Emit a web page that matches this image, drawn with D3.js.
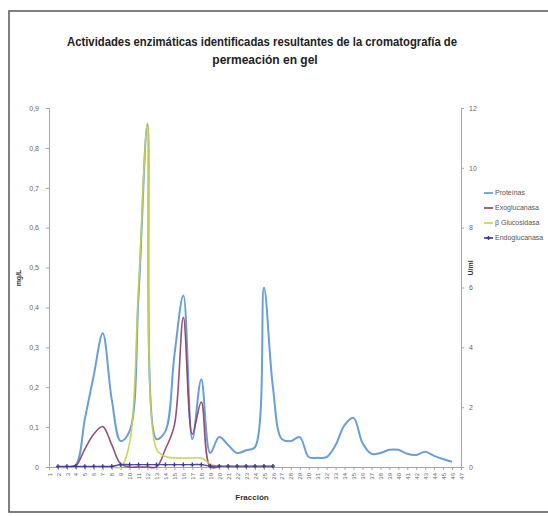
<!DOCTYPE html>
<html>
<head>
<meta charset="utf-8">
<script src="https://cdnjs.cloudflare.com/ajax/libs/d3/7.8.5/d3.min.js"></script>
<style>
  body { margin: 0; background: #fff; }
  svg { display: block; }
</style>
</head>
<body>
<div id="chart"></div>
<script>
// Actividades enzimáticas - cromatografía de permeación en gel

const fracciones = d3.range(1, 48).map(String);

// mg/L (eje izquierdo)
const proteinas = [null, 0.0, 0.0, 0.005, 0.12, 0.23, 0.335, 0.17, 0.065, 0.09,
  0.43, 0.86, 0.07, 0.09, 0.28, 0.43, 0.07, 0.22, 0.035, 0.075,
  0.055, 0.035, 0.042, 0.05, 0.45, 0.2, 0.07, 0.065, 0.075, 0.025,
  0.023, 0.025, 0.055, 0.105, 0.123, 0.06, 0.033, 0.035, 0.043, 0.043,
  0.033, 0.03, 0.038, 0.028, 0.02, 0.013, null];

// U/ml (eje derecho)
const exoglucanasa = [null, 0, 0, 0.05, 0.6, 1.1, 1.35, 0.75, 0.1, 0,
  0, 0, 0, 0.6, 1.4, 5.0, 1.1, 2.17, 0, 0,
  0, 0, 0, 0, 0, 0];
const betaGlucosidasa = [null, 0, 0, 0, 0, 0, 0, 0, 0, 0.8,
  6.0, 11.5, 0.6, 0.35, 0.3, 0.3, 0.3, 0.3, 0.1, 0,
  0, 0, 0, 0, 0, 0];
const endoglucanasa = [null, 0.02, 0.02, 0.02, 0.02, 0.02, 0.02, 0.02, 0.08, 0.08,
  0.08, 0.08, 0.08, 0.08, 0.08, 0.08, 0.08, 0.08, 0.03, 0.03,
  0.03, 0.03, 0.03, 0.03, 0.03, 0.03];

const leftTicks = d3.range(0, 0.91, 0.1);
const rightTicks = d3.range(0, 13, 2);

const width = 548;
const height = 516;
const plot = {left: 49, right: 461, top: 108, bottom: 467};

const svg = d3.select("#chart")
    .append("svg")
    .attr("width", width)
    .attr("height", height);

// marco exterior
svg.append("rect")
    .attr("x", 9).attr("y", 11)
    .attr("width", 560).attr("height", 501)
    .attr("fill", "none")
    .attr("stroke", "#555")
    .attr("stroke-width", 1.5);

// titulo
const title = svg.append("text")
    .attr("text-anchor", "middle")
    .attr("font-family", "'Liberation Sans Narrow', 'Liberation Sans', sans-serif")
    .attr("font-weight", "bold")
    .attr("font-size", 12)
    .attr("fill", "#222");
title.append("tspan").attr("x", 262).attr("y", 46)
    .attr("textLength", 390).attr("lengthAdjust", "spacingAndGlyphs")
    .text("Actividades enzimáticas identificadas resultantes de la cromatografía de");
title.append("tspan").attr("x", 265).attr("y", 64)
    .text("permeación en gel");

const x = d3.scalePoint()
    .domain(fracciones)
    .range([plot.left, plot.right]);

const yLeft = d3.scaleLinear().domain([0, 0.9]).range([plot.bottom, plot.top]);
const yRight = d3.scaleLinear().domain([0, 12]).range([plot.bottom, plot.top]);

const fmt = d => d === 0 ? "0" : d3.format(".1f")(d).replace(".", ",");

const axisFont = "'Liberation Sans', Arial, sans-serif";

const gLeft = svg.append("g")
    .attr("transform", `translate(${plot.left},0)`)
    .call(d3.axisLeft(yLeft).tickValues(leftTicks).tickFormat(fmt).tickSize(3).tickPadding(7));

const gRight = svg.append("g")
    .attr("transform", `translate(${plot.right},0)`)
    .call(d3.axisRight(yRight).tickValues(rightTicks).tickSize(3).tickPadding(5));

const gBottom = svg.append("g")
    .attr("transform", `translate(0,${plot.bottom})`)
    .call(d3.axisBottom(x).tickSize(3).tickPadding(5));

gBottom.selectAll("text")
    .attr("transform", "rotate(-90)")
    .attr("text-anchor", "end")
    .attr("dy", "0.35em")
    .attr("y", 0)
    .attr("x", -6);

[gLeft, gRight, gBottom].forEach(g => {
    g.select(".domain").attr("stroke", "#a6a6a6");
    g.selectAll(".tick line").attr("stroke", "#a6a6a6");
    g.selectAll("text")
        .attr("font-family", axisFont)
        .attr("font-size", 7)
        .attr("fill", "#666");
});
gBottom.selectAll("text").attr("font-size", 6);

// titulos de ejes
svg.append("text")
    .attr("transform", "translate(21,278) rotate(-90)")
    .attr("text-anchor", "middle")
    .attr("font-family", axisFont)
    .attr("font-weight", "bold")
    .attr("font-size", 7)
    .attr("fill", "#333")
    .text("mg/L");

svg.append("text")
    .attr("transform", "translate(473,268) rotate(-90)")
    .attr("text-anchor", "middle")
    .attr("font-family", axisFont)
    .attr("font-weight", "bold")
    .attr("font-size", 7)
    .attr("fill", "#333")
    .text("U/ml");

svg.append("text")
    .attr("x", 252).attr("y", 500)
    .attr("text-anchor", "middle")
    .attr("font-family", axisFont)
    .attr("font-weight", "bold")
    .attr("font-size", 8)
    .attr("fill", "#333")
    .text("Fracción");

// series
const series = [
    {name: "Proteínas", values: proteinas, scale: yLeft, color: "#5a93d3", width: 2},
    {name: "Exoglucanasa", values: exoglucanasa, scale: yRight, color: "#8a3f63", width: 1.6},
    {name: "β Glucosidasa", values: betaGlucosidasa, scale: yRight, color: "#c6d24a", width: 1.6},
    {name: "Endoglucanasa", values: endoglucanasa, scale: yRight, color: "#3b3a96", width: 1.4, markers: true}
];

series.forEach(s => {
    const pts = s.values.map((v, i) => ({cat: fracciones[i], v}));
    const line = d3.line()
        .defined(d => d.v !== null)
        .x(d => x(d.cat))
        .y(d => s.scale(d.v))
        .curve(d3.curveCatmullRom.alpha(0.5));

    svg.append("path")
        .datum(pts)
        .attr("fill", "none")
        .attr("stroke", s.color)
        .attr("stroke-width", s.width)
        .attr("opacity", 0.9)
        .attr("d", line);

    if (s.markers) {
        svg.append("g").selectAll("path")
            .data(pts.filter(d => d.v !== null))
            .join("path")
            .attr("transform", d => `translate(${x(d.cat)},${s.scale(d.v)})`)
            .attr("d", d3.symbol(d3.symbolCross, 10))
            .attr("fill", s.color);
    }
});

// leyenda
const legend = svg.append("g").attr("transform", "translate(484,193)");
series.forEach((s, i) => {
    const row = legend.append("g").attr("transform", `translate(0,${i * 15})`);
    row.append("line")
        .attr("x1", 0).attr("x2", 9)
        .attr("stroke", s.color)
        .attr("stroke-width", 1.6);
    if (s.markers) {
        row.append("path")
            .attr("transform", "translate(4.5,0)")
            .attr("d", d3.symbol(d3.symbolCross, 10))
            .attr("fill", s.color);
    }
    row.append("text")
        .attr("x", 11).attr("y", 0)
        .attr("dy", "0.35em")
        .attr("font-family", axisFont)
        .attr("font-size", 7)
        .attr("fill", "#555")
        .text(s.name);
});
</script>
</body>
</html>
